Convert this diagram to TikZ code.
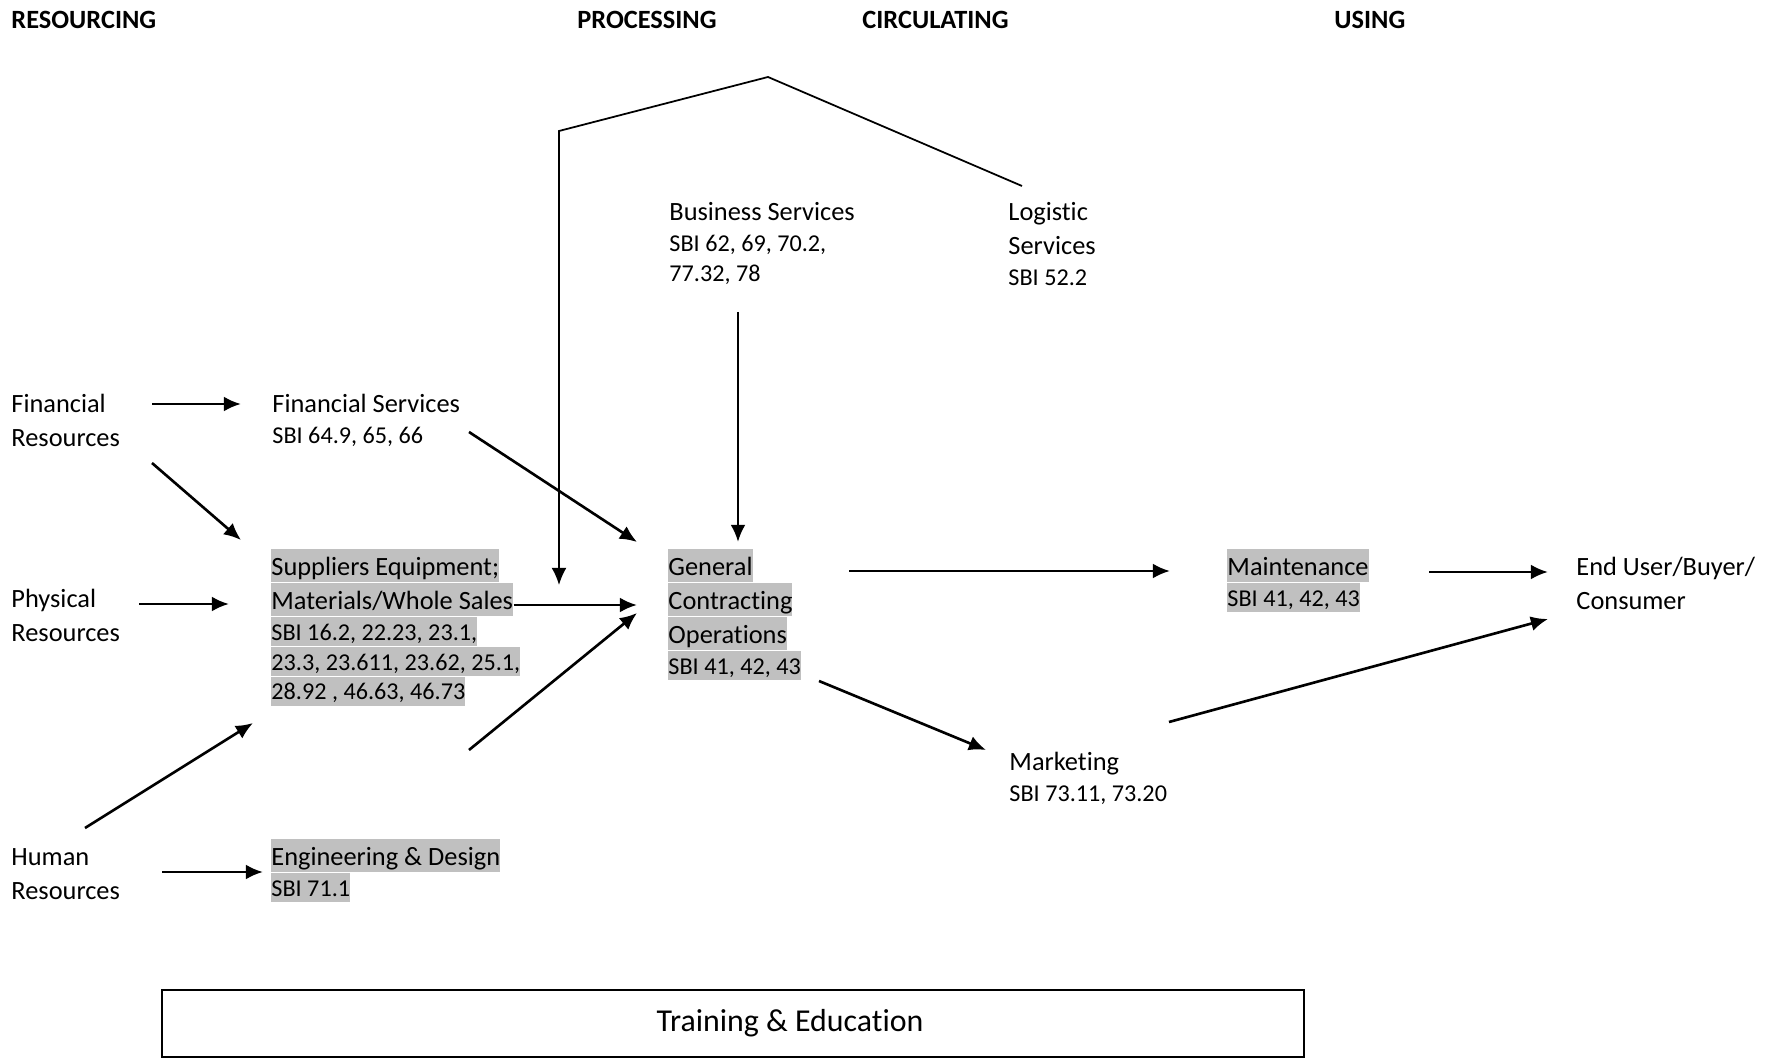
\documentclass[tikz,border=0pt]{standalone}
\usepackage{fontspec}
\setmainfont{Carlito}[Ligatures=NoCommon]
\usetikzlibrary{arrows.meta,positioning}

\definecolor{hlgray}{RGB}{192,192,192}

\begin{document}
\begin{tikzpicture}[x=0.455pt,y=-0.455pt,
	>={Latex[length=7.8pt,width=6.8pt]},
	flow/.style={->,line width=1.2pt},
	head/.style={font=\fontsize{12}{14}\selectfont\bfseries,inner sep=0pt,anchor=base west},
	body/.style={font=\fontsize{12}{14}\selectfont,inner sep=0pt,text height=11.8pt,text depth=3.2pt,anchor=north west},
	sbi/.style={font=\fontsize{11}{13}\selectfont,inner sep=0pt,text height=10.5pt,text depth=2.7pt,anchor=north west},
	hl/.style={fill=hlgray},
	stack/.style={below=0pt of #1.south west,anchor=north west}]

\useasboundingbox (0,0) rectangle (1778,1058);

% column headings
\node[head] (hres) at (11,29) {RESOURCING};
\node[head] (hpro) at (577,29) {PROCESSING};
\node[head] (hcir) at (862,29) {CIRCULATING};
\node[head] (huse) at (1334,29) {USING};

% resources
\node[body] (fr1) at (11,386) {Financial};
\node[body,stack=fr1] (fr2) {Resources};
\node[body] (pr1) at (11,581) {Physical};
\node[body,stack=pr1] (pr2) {Resources};
\node[body] (hr1) at (11,839) {Human};
\node[body,stack=hr1] (hr2) {Resources};

% suppliers and services
\node[body] (fs1) at (272,386) {Financial Services};
\node[sbi,stack=fs1] (fs2) {SBI 64.9, 65, 66};
\node[body,hl] (su1) at (271,549) {Suppliers Equipment;};
\node[body,hl,stack=su1] (su2) {Materials/Whole Sales};
\node[sbi,hl,stack=su2] (su3) {SBI 16.2, 22.23, 23.1,};
\node[sbi,hl,stack=su3] (su4) {23.3, 23.611, 23.62, 25.1,};
\node[sbi,hl,stack=su4] (su5) {28.92 , 46.63, 46.73};
\node[body,hl] (ed1) at (271,839) {Engineering \& Design};
\node[sbi,hl,stack=ed1] (ed2) {SBI 71.1};
\node[body] (bs1) at (669,194) {Business Services};
\node[sbi,stack=bs1] (bs2) {SBI 62, 69, 70.2,};
\node[sbi,stack=bs2] (bs3) {77.32, 78};
\node[body] (ls1) at (1008,194) {Logistic};
\node[body,stack=ls1] (ls2) {Services};
\node[sbi,stack=ls2] (ls3) {SBI 52.2};

% contracting and what follows it
\node[body,hl] (gc1) at (668,549) {General};
\node[body,hl,stack=gc1] (gc2) {Contracting};
\node[body,hl,stack=gc2] (gc3) {Operations};
\node[sbi,hl,stack=gc3] (gc4) {SBI 41, 42, 43};
\node[body,hl] (mt1) at (1227,549) {Maintenance};
\node[sbi,hl,stack=mt1] (mt2) {SBI 41, 42, 43};
\node[body] (mk1) at (1009,744) {Marketing};
\node[sbi,stack=mk1] (mk2) {SBI 73.11, 73.20};
\node[body] (eu1) at (1576,549) {End User/Buyer/};
\node[body,stack=eu1] (eu2) {Consumer};

% loose ends of the arrows
\foreach \n/\p in {fr-out1/{152,404},fs-in/{241,404},fr-out2/{152,463},su-in1/{241,540},
	pr-out/{139,604},su-in2/{229,604},hr-out1/{85,828},su-in3/{253,723},
	hr-out2/{162,872},ed-in/{263,872},fs-out/{469,432},gc-in1/{637,542},
	gc-in2/{637,605},low-out/{469,750},gc-in3/{637,613},
	ls-top/{1022,186},roof/{768,77},eave/{559,131},drop/{559,585},
	bs-out/{738,312},gc-top/{738,542},gc-out1/{849,571},mt-in/{1170,571},
	gc-out2/{819,681},mk-in/{986,750},mt-out/{1429,572},eu-in1/{1548,572},
	mk-out/{1169,722},eu-in2/{1548,619}}{
	\coordinate (\n) at (\p);
}

\draw[flow] (fr-out1) -- (fs-in);
\draw[flow] (fr-out2) -- (su-in1);
\draw[flow] (pr-out) -- (su-in2);
\draw[flow] (hr-out1) -- (su-in3);
\draw[flow] (hr-out2) -- (ed-in);
\draw[flow] (fs-out) -- (gc-in1);
\draw[flow] (su2.east |- gc-in2) -- (gc-in2);
\draw[flow] (low-out) -- (gc-in3);
\draw[->,line width=0.8pt] (ls-top) -- (roof) -- (eave) -- (drop);
\draw[flow] (bs-out) -- (gc-top);
\draw[flow] (gc-out1) -- (mt-in);
\draw[flow] (gc-out2) -- (mk-in);
\draw[flow] (mt-out) -- (eu-in1);
\draw[flow] (mk-out) -- (eu-in2);

% training bar along the bottom
\draw[line width=1pt] (162,990) rectangle (1304,1057);
\node[font=\fontsize{14.5}{17}\selectfont,anchor=base] (te) at (790,1031) {Training \& Education};

\end{tikzpicture}
\end{document}
